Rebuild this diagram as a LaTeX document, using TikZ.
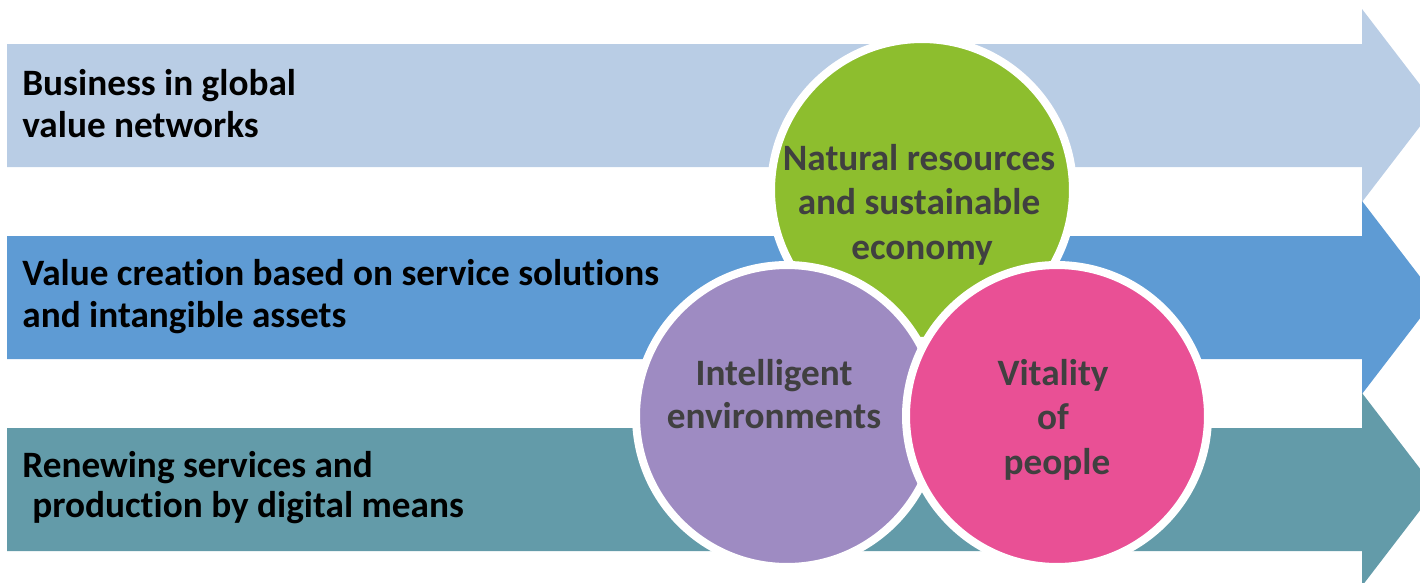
\documentclass[tikz,border=0pt]{standalone}
\usepackage{fontspec}
\setmainfont{Carlito}[Ligatures=NoCommon]
\definecolor{arrowA}{HTML}{B9CDE5}
\definecolor{arrowB}{HTML}{5E9BD4}
\definecolor{arrowC}{HTML}{639BA9}
\definecolor{natgreen}{HTML}{8DBE2E}
\definecolor{intpurple}{HTML}{9E8BC2}
\definecolor{vitpink}{HTML}{E95095}
\definecolor{circtext}{HTML}{404040}
\tikzset{
  bigcirc/.style={circle, draw=white, line width=0.16cm, minimum size=6.04cm, inner sep=0pt},
  leftlabel/.style={anchor=base west, inner sep=0pt, font=\bfseries\fontsize{21.2}{25}\selectfont, text=black},
  circlabel/.style={anchor=base, inner sep=0pt, font=\bfseries\fontsize{21.2}{25}\selectfont, text=circtext},
}
\begin{document}
\begin{tikzpicture}[x=0.02cm,y=-0.02cm]
\useasboundingbox (0,0) rectangle (1420,582);
\clip (0,0) rectangle (1420,582);
% arrows
\fill[arrowA] (7,44) -- (1362,44) -- (1362,9) -- (1436,105.5) -- (1362,202) -- (1362,167) -- (7,167) -- cycle;
\fill[arrowB] (7,236) -- (1362,236) -- (1362,201) -- (1436,297.5) -- (1362,394) -- (1362,359) -- (7,359) -- cycle;
\fill[arrowC] (7,428) -- (1362,428) -- (1362,393) -- (1436,489.5) -- (1362,586) -- (1362,551) -- (7,551) -- cycle;
% arrow labels
\node[leftlabel] (b1) at (22,95) {Business in global};
\node[leftlabel] (b2) at (22,137) {value networks};
\node[leftlabel] (v1) at (22,285) {Value creation based on service solutions};
\node[leftlabel] (v2) at (22,327) {and intangible assets};
\node[leftlabel] (r1) at (22,477) {Renewing services and};
\node[leftlabel] (r2) at (32,517) {production by digital means};
% circles
\node[bigcirc, fill=natgreen] (nat) at (922,190) {};
\node[bigcirc, fill=intpurple] (int) at (787,416) {};
\node[bigcirc, fill=vitpink] (vit) at (1057,416) {};
% circle labels
\node[circlabel] (n1) at (919,170) {Natural resources};
\node[circlabel] (n2) at (919,214) {and sustainable};
\node[circlabel] (n3) at (922,259) {economy};
\node[circlabel] (i1) at (774,385) {Intelligent};
\node[circlabel] (i2) at (774,428) {environments};
\node[circlabel] (p1) at (1053,385) {Vitality};
\node[circlabel] (p2) at (1053,429) {of};
\node[circlabel] (p3) at (1057,474) {people};
\end{tikzpicture}
\end{document}
